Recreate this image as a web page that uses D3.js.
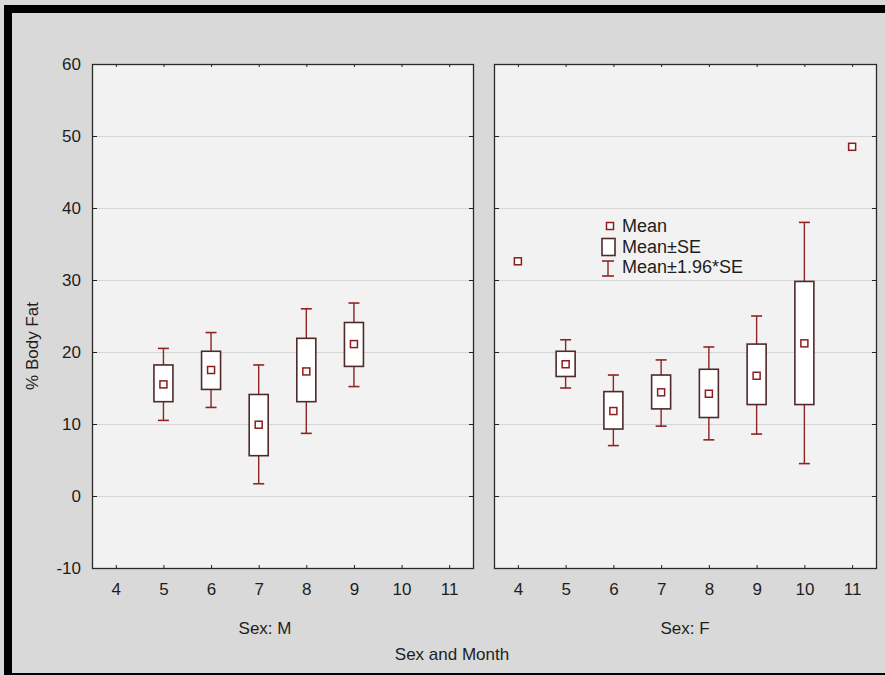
<!DOCTYPE html>
<html>
<head>
<meta charset="utf-8">
<script src="https://cdn.jsdelivr.net/npm/d3@7"></script>
<style>
  body { margin: 0; background: #d9d9d9; }
  text { font-family: "Liberation Sans", Arial, sans-serif; fill: #1e1e1e; }
</style>
</head>
<body>
<div id="chart"></div>
<script>
var svgWidth = 885;
var svgHeight = 675;

// months on the x axis of both panels
var months = [4, 5, 6, 7, 8, 9, 10, 11];
var yTicks = [-10, 0, 10, 20, 30, 40, 50, 60];

// Sex: M
var maleMonths = [5, 6, 7, 8, 9];
var maleMean = [15.5, 17.5, 9.9, 17.3, 21.1];
var maleSeLow = [13.1, 14.8, 5.6, 13.1, 18.0];
var maleSeHigh = [18.2, 20.1, 14.1, 21.9, 24.1];
var maleCiLow = [10.5, 12.3, 1.7, 8.7, 15.2];
var maleCiHigh = [20.5, 22.7, 18.2, 26.0, 26.8];

// Sex: F
var femaleMonths = [4, 5, 6, 7, 8, 9, 10, 11];
var femaleMean = [32.6, 18.3, 11.8, 14.4, 14.2, 16.7, 21.2, 48.5];
var femaleSeLow = [null, 16.6, 9.3, 12.1, 10.9, 12.7, 12.7, null];
var femaleSeHigh = [null, 20.1, 14.5, 16.8, 17.6, 21.1, 29.8, null];
var femaleCiLow = [null, 15.0, 7.0, 9.7, 7.8, 8.6, 4.5, null];
var femaleCiHigh = [null, 21.7, 16.8, 18.9, 20.7, 25.0, 38.0, null];

var legendLabels = ["Mean", "Mean\u00b1SE", "Mean\u00b11.96*SE"];

var plotTop = 64, plotBottom = 568;
var panels = [
  { left: 92, right: 473, title: "Sex: M", titleX: 265, labels: true,
    months: maleMonths, mean: maleMean, seLow: maleSeLow, seHigh: maleSeHigh, ciLow: maleCiLow, ciHigh: maleCiHigh },
  { left: 494, right: 876, title: "Sex: F", titleX: 685, labels: false,
    months: femaleMonths, mean: femaleMean, seLow: femaleSeLow, seHigh: femaleSeHigh, ciLow: femaleCiLow, ciHigh: femaleCiHigh }
];

var boxColor = "#4e2a2a";
var whiskColor = "#8e2424";
var meanColor = "#8e1c1c";

var svg = d3.select("#chart")
  .append("svg")
  .attr("width", svgWidth)
  .attr("height", svgHeight)
  .style("display", "block");

svg.append("rect").attr("width", svgWidth).attr("height", svgHeight).attr("fill", "#d9d9d9");

// black frame (cut off on the right)
svg.append("rect").attr("x", 4).attr("y", 5).attr("width", svgWidth - 4).attr("height", 8).attr("fill", "#000");
svg.append("rect").attr("x", 4).attr("y", 5).attr("width", 8).attr("height", svgHeight - 5).attr("fill", "#000");
svg.append("rect").attr("x", 4).attr("y", 673).attr("width", svgWidth - 4).attr("height", 2).attr("fill", "#000");

var y = d3.scaleLinear().domain([-10, 60]).range([plotBottom, plotTop]);

panels.forEach(function(p) {
  var x = d3.scalePoint().domain(months).range([p.left, p.right]).padding(0.5);
  var g = svg.append("g");

  g.append("rect")
    .attr("x", p.left).attr("y", plotTop)
    .attr("width", p.right - p.left).attr("height", plotBottom - plotTop)
    .attr("fill", "#f2f2f2");

  g.selectAll(".grid")
    .data(yTicks.slice(1, -1))
    .enter().append("line")
    .attr("x1", p.left).attr("x2", p.right)
    .attr("y1", d => y(d) + 0.5).attr("y2", d => y(d) + 0.5)
    .attr("stroke", "#d6d6d6");

  var leftAxis = d3.axisLeft(y).tickValues(yTicks).tickSize(-5).tickPadding(11)
    .tickFormat(d => p.labels ? String(d) : "");
  g.append("g").attr("transform", `translate(${p.left},0)`).call(leftAxis);
  g.append("g").attr("transform", `translate(${p.right},0)`)
    .call(d3.axisRight(y).tickValues(yTicks).tickSize(-4).tickFormat(""));
  g.append("g").attr("transform", `translate(0,${plotTop})`)
    .call(d3.axisTop(x).tickSize(-3).tickFormat(""));
  g.append("g").attr("transform", `translate(0,${plotBottom})`)
    .call(d3.axisBottom(x).tickSize(-3).tickPadding(15));

  g.selectAll(".domain").remove();
  g.selectAll(".tick line").attr("stroke", "#222");
  g.selectAll(".tick text").attr("font-size", "17px").attr("fill", "#1e1e1e")
    .attr("font-family", "'Liberation Sans', Arial, sans-serif");

  g.append("rect")
    .attr("x", p.left + 0.5).attr("y", plotTop + 0.5)
    .attr("width", p.right - p.left).attr("height", plotBottom - plotTop)
    .attr("fill", "none").attr("stroke", "#2a2a2a").attr("stroke-width", 1.3);

  var rows = p.months.map(function(m, i) {
    return { m: m, mean: p.mean[i], seLow: p.seLow[i], seHigh: p.seHigh[i], ciLow: p.ciLow[i], ciHigh: p.ciHigh[i] };
  });
  var full = rows.filter(d => d.seLow != null);

  // whiskers
  g.selectAll(".whisk").data(full).enter().append("line")
    .attr("x1", d => x(d.m)).attr("x2", d => x(d.m))
    .attr("y1", d => y(d.ciHigh)).attr("y2", d => y(d.ciLow))
    .attr("stroke", whiskColor).attr("stroke-width", 1.4);
  g.selectAll(".capTop").data(full).enter().append("line")
    .attr("x1", d => x(d.m) - 5.5).attr("x2", d => x(d.m) + 5.5)
    .attr("y1", d => y(d.ciHigh)).attr("y2", d => y(d.ciHigh))
    .attr("stroke", whiskColor).attr("stroke-width", 1.6);
  g.selectAll(".capBot").data(full).enter().append("line")
    .attr("x1", d => x(d.m) - 5.5).attr("x2", d => x(d.m) + 5.5)
    .attr("y1", d => y(d.ciLow)).attr("y2", d => y(d.ciLow))
    .attr("stroke", whiskColor).attr("stroke-width", 1.6);

  // SE boxes
  g.selectAll(".box").data(full).enter().append("rect")
    .attr("x", d => x(d.m) - 9.5).attr("width", 19)
    .attr("y", d => y(d.seHigh)).attr("height", d => y(d.seLow) - y(d.seHigh))
    .attr("fill", "#fff").attr("stroke", boxColor).attr("stroke-width", 1.6);

  // means
  g.selectAll(".mean").data(rows).enter().append("rect")
    .attr("x", d => x(d.m) - 3.5).attr("y", d => y(d.mean) - 3.5)
    .attr("width", 7).attr("height", 7)
    .attr("fill", "#fff").attr("stroke", meanColor).attr("stroke-width", 1.5);

  svg.append("text")
    .attr("x", p.titleX).attr("y", 634)
    .attr("text-anchor", "middle").attr("font-size", "17px")
    .text(p.title);
});

svg.append("text")
  .attr("x", 452).attr("y", 660)
  .attr("text-anchor", "middle").attr("font-size", "17px")
  .text("Sex and Month");

svg.append("text")
  .attr("transform", "translate(38,346) rotate(-90)")
  .attr("text-anchor", "middle").attr("font-size", "17px")
  .text("% Body Fat");

// legend
var legend = svg.append("g");
legend.append("rect").attr("x", 606.5).attr("y", 222.5).attr("width", 7).attr("height", 7)
  .attr("fill", "#fff").attr("stroke", meanColor).attr("stroke-width", 1.5);
legend.append("rect").attr("x", 602).attr("y", 238.5).attr("width", 13).attr("height", 17)
  .attr("fill", "#fff").attr("stroke", boxColor).attr("stroke-width", 1.6);
legend.append("line").attr("x1", 608).attr("x2", 608).attr("y1", 261).attr("y2", 276)
  .attr("stroke", whiskColor).attr("stroke-width", 1.4);
legend.append("line").attr("x1", 602).attr("x2", 614).attr("y1", 261).attr("y2", 261)
  .attr("stroke", whiskColor).attr("stroke-width", 1.6);
legend.append("line").attr("x1", 602).attr("x2", 614).attr("y1", 276).attr("y2", 276)
  .attr("stroke", whiskColor).attr("stroke-width", 1.6);
legend.selectAll("text").data(legendLabels).enter().append("text")
  .attr("x", 622).attr("y", (d, i) => 232 + i * 20.7)
  .attr("font-size", "18px")
  .text(d => d);
</script>
</body>
</html>
